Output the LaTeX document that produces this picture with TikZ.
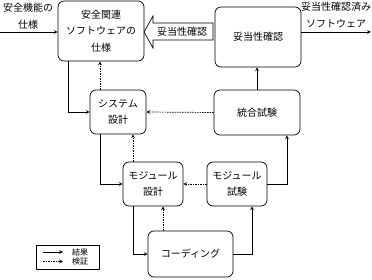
\documentclass[tikz,border=0pt]{standalone}
\usepackage{fontspec}
\newfontfamily\cjk{Noto Sans CJK JP}

\begin{document}
\begin{tikzpicture}[x=1pt,y=-1pt,>=stealth,line width=0.7pt,
  font=\cjk\fontsize{10}{16.5}\selectfont,
  box/.style={draw, rectangle, rounded corners=6pt, align=center, inner sep=2pt},
  verify/.style={->, dash pattern=on 1.5pt off 1pt}]
\useasboundingbox (0,0) rectangle (372,280);

% boxes
\node[box, minimum width=86pt, minimum height=60pt] (spec) at (101,31) {安全関連\\ソフトウェアの\\仕様};
\node[box, minimum width=86pt, minimum height=60pt] (valid) at (258,37) {妥当性確認};
\node[box, minimum width=56pt, minimum height=44pt] (sys) at (118,112) {システム\\設計};
\node[box, minimum width=86pt, minimum height=45pt] (integ) at (257,112.5) {統合試験};
\node[box, minimum width=60pt, minimum height=44pt] (moddes) at (153,184) {モジュール\\設計};
\node[box, minimum width=60pt, minimum height=44pt] (modtest) at (237,184) {モジュール\\試験};
\node[box, minimum width=85pt, minimum height=46pt] (coding) at (190.5,254) {コーディング};

% input and output
\coordinate (inbeg) at (0,32);
\coordinate (outend) at (371,32);
\node[align=center, inner sep=0pt] (inlbl) at (28,16) {安全機能の\\仕様};
\node[align=center, inner sep=0pt] (outlbl) at (336,15) {妥当性確認済み\\ソフトウェア};
\draw[->] (inbeg) -- (inbeg -| spec.west);
\draw[->] (valid.east |- outend) -- (outend);

% validation arrow
\draw (213,23) -- (153,23) -- (153,16) -- (144,32) -- (153,48) -- (153,40) -- (213,40) -- cycle;
\node[inner sep=0pt] (vlbl) at (182,31.5) {妥当性確認};

% results
\draw[->] ([xshift=-33pt]spec.south) |- (sys.west);
\draw[->] ([xshift=-18pt]sys.south) |- (moddes.west);
\draw[->] ([xshift=-20pt]moddes.south) |- (coding.west);
\draw[->] (coding.east) -| ([xshift=15pt]modtest.south);
\draw[->] (modtest.east) -| ([xshift=30pt]integ.south);
\draw[->] (integ.north) -- (integ.north |- valid.south);

% verification
\draw[verify] ([xshift=-18pt]sys.north) -- ([xshift=-18pt]sys.north |- spec.south);
\draw[verify] ([xshift=-20pt]moddes.north) -- ([xshift=-20pt]moddes.north |- sys.south);
\draw[verify] ([xshift=-27.5pt]coding.north) -- ([xshift=-27.5pt]coding.north |- moddes.south);
\draw[verify] (modtest.west) -- (moddes.east);
\draw[verify] (integ.west) -- (sys.east);

% legend
\draw[line width=0.5pt] (36,245) rectangle (99,269);
\coordinate (la1) at (43,252);
\coordinate (la2) at (63,252);
\coordinate (lb1) at (43,261.5);
\coordinate (lb2) at (63,261.5);
\draw[->] (la1) -- (la2);
\draw[verify] (lb1) -- (lb2);
\node[font=\cjk\fontsize{8}{10}\selectfont, inner sep=0pt] (lres) at (80,252) {結果};
\node[font=\cjk\fontsize{8}{10}\selectfont, inner sep=0pt] (lver) at (80,261.5) {検証};
\end{tikzpicture}
\end{document}
